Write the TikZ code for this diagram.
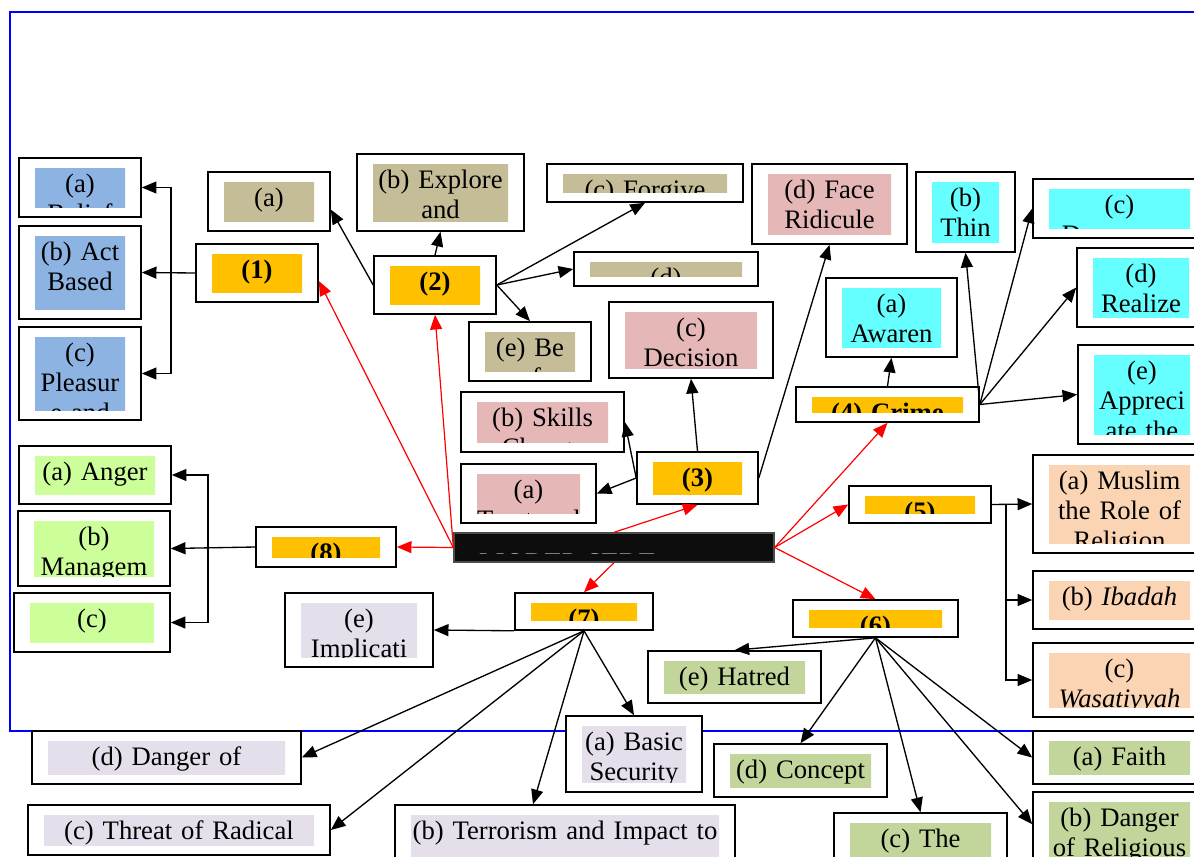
\documentclass[tikz,border=0pt]{standalone}
\usepackage{fontspec}
\setmainfont{Liberation Serif}
\usetikzlibrary{arrows.meta,calc,fit}

\definecolor{blu}{HTML}{8DB3E2}
\definecolor{tan}{HTML}{C4BD97}
\definecolor{org}{HTML}{FFC000}
\definecolor{pnk}{HTML}{E5B8B7}
\definecolor{cyn}{HTML}{66FFFF}
\definecolor{pch}{HTML}{FBD4B4}
\definecolor{grn}{HTML}{C2D69B}
\definecolor{lav}{HTML}{E5DFEC}
\definecolor{lgr}{HTML}{CCFF99}
\newcommand\boxfont{\fontsize{20}{22.5}\selectfont}

\tikzset{
	box/.style n args={3}{draw=black, line width=1.2pt, fill=white, inner sep=0pt,
		path picture={
			\path[clip] ([shift={(16,10)}]path picture bounding box.north west) rectangle ([shift={(-16,-10)}]path picture bounding box.south east);
			\fill[#1] (path picture bounding box.north west) rectangle (path picture bounding box.south east);
			\node[anchor=base, align=center, inner sep=0pt, draw=none, fill=none, text=black, font=\boxfont#3] at ([shift={(0,34.5)}]path picture bounding box.north) {#2};
		}},
	tb/.style 2 args={box={#1}{#2}{}},
	hb/.style 2 args={box={#1}{#2}{\bfseries}},
	ar/.style={-{Triangle[length=11pt,width=9pt]}, line width=1pt, black},
	rar/.style={-{Triangle[length=11pt,width=9pt]}, line width=0.9pt, red},
}

\begin{document}
\begin{tikzpicture}[x=0.75pt,y=-0.75pt]

\useasboundingbox (0,0) rectangle (1194,856);
\clip (0,0) rectangle (1194,856);

% The frame
\draw[blue, line width=1.3pt] (1210,12) -- (10,12) -- (10,731) -- (1210,731);

% The centre
\node[draw=black!70, line width=1pt, fill=black!95, inner sep=0pt, fit={(454,533)(774,562)},
	path picture={\path[clip] ([shift={(0,7)}]path picture bounding box.north west) rectangle ([shift={(0,20)}]path picture bounding box.north east);
		\node[anchor=base, inner sep=0pt, draw=none, fill=none, text=white, font=\boxfont\bfseries] at ([shift={(-46,38)}]path picture bounding box.north) {MODEL SERE};}] (model) {};

% Group (1)
\node[hb={org}{(1)}, fit={(196,244)(318,302)}] (c1) {};
\node[tb={blu}{(a)\\Belief}, fit={(19,158)(141,217)}] (c1a) {};
\node[tb={blu}{(b) Act\\Based}, fit={(19,226)(141,319)}] (c1b) {};
\node[tb={blu}{(c)\\Pleasur\\e and}, fit={(19,327)(141,420)}] (c1c) {};

% Group (2)
\node[hb={org}{(2)}, fit={(374,256)(496,314)}] (c2) {};
\node[tb={tan}{(a)}, fit={(208,172)(330,231)}] (c2a) {};
\node[tb={tan}{(b) Explore\\and}, fit={(357,154)(524,231)}] (c2b) {};
\node[tb={tan}{(c) Forgive}, fit={(547,164)(743,202)}] (c2c) {};
\node[tb={tan}{(d)}, fit={(574,252)(758,286)}] (c2d) {};
\node[tb={tan}{(e) Be\\of}, fit={(469,322)(591,381)}] (c2e) {};

% Group (3)
\node[hb={org}{(3)}, fit={(637,452)(758,504)}] (c3) {};
\node[tb={pnk}{(a)\\Trust and}, fit={(461,464)(596,523)}] (c3a) {};
\node[tb={pnk}{(b) Skills\\Change}, fit={(461,392)(624,452)}] (c3b) {};
\node[tb={pnk}{(c)\\Decision}, fit={(609,302)(773,378)}] (c3c) {};
\node[tb={pnk}{(d) Face\\Ridicule}, fit={(752,164)(907,244)}] (c3d) {};

% Group (4)
\node[hb={org}{(4) Crime}, fit={(796,387)(979,422)}] (c4) {};
\node[tb={cyn}{(a)\\Awaren}, fit={(826,278)(957,357)}] (c4a) {};
\node[tb={cyn}{(b)\\Thin}, fit={(916,172)(1015,252)}] (c4b) {};
\node[tb={cyn}{(c)\\Dangerous}, fit={(1033,179)(1206,238)}] (c4c) {};
\node[tb={cyn}{(d)\\Realize}, fit={(1077,248)(1205,327)}] (c4d) {};
\node[tb={cyn}{(e)\\Appreci\\ate the}, fit={(1078,345)(1206,444)}] (c4e) {};

% Group (5)
\node[hb={org}{(5)}, fit={(849,486)(991,523)}] (c5) {};
\node[tb={pch}{(a) Muslim\\the Role of\\Religion}, fit={(1033,455)(1206,553)}] (c5a) {};
\node[tb={pch}{(b) \textit{Ibadah}}, fit={(1033,571)(1206,629)}] (c5b) {};
\node[tb={pch}{(c)\\\textit{Wasatiyyah}}, fit={(1033,643)(1206,717)}] (c5c) {};

% Group (6)
\node[hb={org}{(6)}, fit={(793,600)(958,637)}] (c6) {};
\node[tb={grn}{(a) Faith}, fit={(1033,731)(1206,784)}] (c6a) {};
\node[tb={grn}{(b) Danger\\of Religious}, fit={(1033,792)(1206,870)}] (c6b) {};
\node[tb={grn}{(c) The}, fit={(834,813)(1007,880)}] (c6c) {};
\node[tb={grn}{(d) Concept}, fit={(714,744)(887,797)}] (c6d) {};
\node[tb={grn}{(e) Hatred}, fit={(648,651)(821,703)}] (c6e) {};

% Group (7)
\node[hb={org}{(7)}, fit={(515,593)(653,630)}] (c7) {};
\node[tb={lav}{(a) Basic\\Security}, fit={(566,716)(702,792)}] (c7a) {};
\node[tb={lav}{(b) Terrorism and Impact to}, fit={(395,805)(735,880)}] (c7b) {};
\node[tb={lav}{(c) Threat of Radical}, fit={(28,805)(330,855)}] (c7c) {};
\node[tb={lav}{(d) Danger of}, fit={(32,731)(301,784)}] (c7d) {};
\node[tb={lav}{(e)\\Implicati}, fit={(285,593)(433,667)}] (c7e) {};

% Group (8)
\node[hb={org}{(8)}, fit={(256,527)(396,567)}] (c8) {};
\node[tb={lgr}{(a) Anger}, fit={(19,446)(171,504)}] (c8a) {};
\node[tb={lgr}{(b)\\Managem}, fit={(18,511)(170,586)}] (c8b) {};
\node[tb={lgr}{(c)}, fit={(14,593)(170,652)}] (c8c) {};

% The red links
\draw[rar] (model.west) -- ($(c1.east)+(0,8)$);
\draw[rar] (model.west) -- (c2.south);
\draw[rar] (model.west) -- (c8.east);
\draw[rar] (model.north) -- (c3.south);
\draw[rar] (model.south) -- (c7.north);
\draw[rar] (model.east) -- (c4.south);
\draw[rar] (model.east) -- (c5.west);
\draw[rar] (model.east) -- (c6.north);

% The black links
\coordinate (j1) at (171,273);
\draw[ar] (c1.west) -- (c1b.east);
\draw[ar] (j1) |- (c1a.east);
\draw[ar] (j1) |- (c1c.east);

\draw[ar] (c2.west) -- ($(c2a.east)+(0,8)$);
\draw[ar] (c2.north) -- (c2b.south);
\draw[ar] (c2.east) -- (c2c.south);
\draw[ar] (c2.east) -- (c2d.west);
\draw[ar] (c2.east) -- (c2e.north);

\draw[ar] (c3.west) -- (c3a.east);
\draw[ar] (c3.west) -- (c3b.east);
\draw[ar] (c3.north) -- (c3c.south);
\draw[ar] (c3.east) -- (c3d.south);

\draw[ar] (c4.north) -- (c4a.south);
\draw[ar] (c4.east) -- (c4b.south);
\draw[ar] (c4.east) -- (c4c.west);
\draw[ar] (c4.east) -- (c4d.west);
\draw[ar] (c4.east) -- (c4e.west);

\coordinate (j5) at (1006,504.5);
\draw[ar] (c5.east) -- (c5a.west);
\draw[ar] (j5) |- (c5b.west);
\draw[ar] (j5) |- (c5c.west);

\draw[ar] (c6.south) -- (c6a.west);
\draw[ar] (c6.south) -- ($(c6b.north west)+(0,33)$);
\draw[ar] (c6.south) -- (c6c.north);
\draw[ar] (c6.south) -- (c6d.north);
\draw[ar] (c6.south) -- (c6e.north);

\draw[ar] (c7.south) -- (c7a.north);
\draw[ar] (c7.south) -- ($(c7b.north)+(-32,0)$);
\draw[ar] (c7.south) -- (c7c.east);
\draw[ar] (c7.south) -- (c7d.east);
\draw[ar] (c7.south west) -- (c7e.east);

\coordinate (j8) at (208,548);
\draw[ar] (c8.west) -- (c8b.east);
\draw[ar] (j8) |- (c8a.east);
\draw[ar] (j8) |- (c8c.east);

\end{tikzpicture}
\end{document}
